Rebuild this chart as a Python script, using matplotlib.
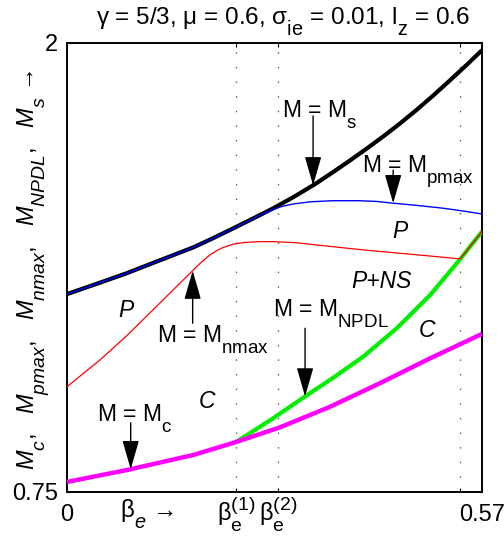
import numpy as np
import matplotlib
matplotlib.use("Agg")
import matplotlib.pyplot as plt
import matplotlib._mathtext as mathtext_internal
from matplotlib.transforms import ScaledTranslation

# TeX-like scripts: larger and dropped further below the baseline
mathtext_internal.SHRINK_FACTOR = 0.82
mathtext_internal.FontConstantsBase.sub1 = 0.85
mathtext_internal.FontConstantsBase.sub2 = 0.85

plt.rcParams['font.family'] = ['Liberation Sans', 'DejaVu Sans']
plt.rcParams['mathtext.fontset'] = 'custom'
plt.rcParams['mathtext.rm'] = 'Liberation Sans'
plt.rcParams['mathtext.it'] = 'Liberation Sans:italic'
plt.rcParams['mathtext.bf'] = 'Liberation Sans:bold'

# Characteristic beta_e values (dotted guides)
beta_1 = 0.232
beta_2 = 0.290
beta_3 = 0.540
beta_max = 0.57

# M_s (sonic)
beta_s = [0.0, 0.04, 0.082, 0.125, 0.1735, 0.20, 0.2284, 0.265, 0.2834, 0.311, 0.3406,
          0.3657, 0.3887, 0.4116, 0.4345, 0.4574, 0.4803, 0.5031, 0.526, 0.5489, 0.570]
m_s = [1.301, 1.329, 1.359, 1.393, 1.431, 1.456, 1.484, 1.521, 1.540, 1.571, 1.607,
       1.641, 1.673, 1.706, 1.740, 1.776, 1.814, 1.854, 1.896, 1.939, 1.980]

# M_pmax
beta_p = [0.0, 0.04, 0.082, 0.125, 0.1735, 0.20, 0.2284, 0.265, 0.279, 0.295, 0.311,
          0.335, 0.366, 0.40, 0.425, 0.448, 0.48, 0.517, 0.545, 0.570]
m_pmax = [1.301, 1.329, 1.359, 1.393, 1.431, 1.456, 1.484, 1.521, 1.533, 1.545, 1.552,
          1.558, 1.561, 1.561, 1.559, 1.554, 1.548, 1.540, 1.532, 1.524]

# M_nmax
beta_n = [0.0, 0.045, 0.082, 0.1186, 0.15, 0.1735, 0.1846, 0.1964, 0.205, 0.2125, 0.2284,
          0.245, 0.265, 0.2834, 0.315, 0.36, 0.407, 0.45, 0.4986, 0.540, 0.555, 0.570]
m_nmax = [1.043, 1.117, 1.185, 1.258, 1.321, 1.368, 1.390, 1.410, 1.421, 1.429, 1.440,
          1.445, 1.447, 1.447, 1.444, 1.434, 1.424, 1.416, 1.407, 1.399, 1.437, 1.475]

# M_NPDL
beta_d = [0.232, 0.28, 0.327, 0.367, 0.407, 0.453, 0.4986, 0.540, 0.570]
m_npdl = [0.889, 0.951, 1.016, 1.070, 1.127, 1.206, 1.298, 1.398, 1.475]

# M_c
beta_c = [0.0, 0.082, 0.1735, 0.232, 0.2925, 0.361, 0.430, 0.4986, 0.570]
m_c = [0.778, 0.811, 0.853, 0.889, 0.930, 0.987, 1.053, 1.122, 1.190]

fig = plt.figure(figsize=(5.04, 5.43), dpi=100)
ax = fig.add_axes([67 / 504, 51 / 543, 415 / 504, 449 / 543])

ax.plot(beta_s, m_s, color='black', lw=3.0, solid_capstyle='butt', zorder=3)
ax.plot(beta_p, m_pmax, color='#0000ff', lw=1.0, zorder=4)
ax.plot(beta_d, m_npdl, color='#00ee00', lw=3.0, solid_capstyle='butt', zorder=3)
ax.plot(beta_c, m_c, color='#ff00ff', lw=3.2, solid_capstyle='butt', zorder=3)
ax.plot(beta_n, m_nmax, color='#ff0000', lw=0.9, zorder=5)

ax.set_xlim(0, beta_max)
ax.set_ylim(0.75, 2.0)

# dotted guides
for b in (beta_1, beta_2, beta_3):
    ax.axvline(b, color='0.35', lw=0.9, dashes=(1.2, 10.5), zorder=1)

ax.set_xticks([0, beta_1, beta_2, beta_3, beta_max])
ax.set_xticklabels(['0', r'$\mathregular{β_e^{(1)}}$', r'$\mathregular{β_e^{(2)}}$', '', '0.57'])
ax.set_yticks([0.75, 2.0])
ax.set_yticklabels(['0.75', '2'])
ax.tick_params(axis='both', direction='in', length=3, width=0.8, top=True, right=True,
               labelsize=17)
ax.tick_params(axis='x', pad=16.5)
ax.tick_params(axis='y', pad=6.5)
for lbl in ax.get_xticklabels():
    lbl.set_verticalalignment('center')
for sp in ax.spines.values():
    sp.set_linewidth(1.4)

off = ScaledTranslation(0, -16.5 / 72, fig.dpi_scale_trans)
ax.text(0.11, 0, r'$\mathregular{β}_{e}$ →', transform=ax.get_xaxis_transform() + off,
        ha='center', va='center', fontsize=17.5)

ax.set_title(r'γ = 5/3, μ = 0.6, $\mathregular{σ_{ie}}$ = 0.01, $\mathregular{l_z}$ = 0.6',
             fontsize=17.5, pad=13, x=0.52)

fig.text(33 / 504, 1 - 270 / 543,
         r'$M_c$,   $M_{pmax}$,   $M_{nmax}$,   $M_{NPDL}$,   $M_s$ →',
         rotation=90, ha='center', va='center', fontsize=17)

arrow_kw = dict(arrowstyle='-|>,head_length=0.9,head_width=0.26', color='black',
                lw=1.0, shrinkA=0, shrinkB=0, mutation_scale=20)


def label_arrow(text, tx, ty, ax_x, tail_y, bx, by):
    ax.text(tx, ty, text, fontsize=16.5, ha='left', va='baseline', zorder=6)
    ax.annotate('', xy=(ax_x, float(np.interp(ax_x, bx, by))), xytext=(ax_x, tail_y),
                arrowprops=arrow_kw, zorder=6)


label_arrow(r'M = $\mathregular{M_s}$', 0.2953, 1.791, 0.338, 1.797, beta_s, m_s)
label_arrow(r'M = $\mathregular{M_{pmax}}$', 0.4053, 1.641, 0.448, 1.646, beta_p, m_pmax)
label_arrow(r'M = $\mathregular{M_{NPDL}}$', 0.2825, 1.238, 0.327, 1.206, beta_d, m_npdl)
label_arrow(r'M = $\mathregular{M_c}$', 0.0408, 0.946, 0.0875, 0.943, beta_c, m_c)

# M_nmax label sits below its curve, arrow points upward
ax.text(0.1232, 1.164, r'M = $\mathregular{M_{nmax}}$', fontsize=16.5, ha='left',
        va='baseline', zorder=6)
ax.annotate('', xy=(0.1726, float(np.interp(0.1726, beta_n, m_nmax))), xytext=(0.1726, 1.220),
            arrowprops=arrow_kw, zorder=6)

# region labels
for txt, x, y in [('P', 0.457, 1.457), ('P+NS', 0.432, 1.317), ('C', 0.494, 1.181),
                  ('P', 0.0803, 1.236), ('C', 0.1918, 0.985)]:
    ax.text(x, y, txt, fontsize=16.5, style='italic', ha='center', va='baseline', zorder=6)

fig.savefig('out.png', dpi=100)
